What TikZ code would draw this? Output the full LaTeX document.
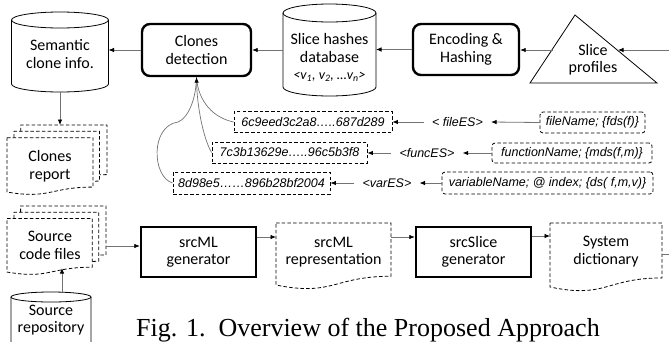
\documentclass[tikz,border=0pt]{standalone}
\usepackage{fontspec}
\setmainfont{Carlito}
\newfontfamily\arialf{Liberation Sans}
\newfontfamily\timesf{Liberation Serif}
\usetikzlibrary{arrows.meta,calc}
\newcommand\cylbody[5]{%
  \draw[cyl] (#1-#4,#2+#5) -- (#1-#4,#3-#5) arc[start angle=180,end angle=0,x radius=#4,y radius=#5] -- (#1+#4,#2+#5);
  \draw[cyl] (#1,#2+#5) ellipse[x radius=#4,y radius=#5];}
\newcommand\docshape[4]{%
  \draw[dsh] (#1,#2) -- (#1+#3,#2) -- (#1+#3,#2+0.802*#4) .. controls (#1+0.5*#3,#2+0.802*#4) and (#1+0.5*#3,#2+1.1075*#4) .. (#1,#2+0.934*#4) -- cycle;}
\newcommand\multidoc[4]{%
  \draw[dsh] (#1,#2+0.1701*#4) -- (#1+0.8609*#3,#2+0.1701*#4) -- (#1+0.8609*#3,#2+0.8344*#4) .. controls (#1+0.4305*#3,#2+0.8344*#4) and (#1+0.4305*#3,#2+#4) .. (#1,#2+0.9010*#4) -- cycle;
  \draw[dsh] (#1+0.0709*#3,#2+0.1701*#4) -- (#1+0.0709*#3,#2+0.0840*#4) -- (#1+0.9259*#3,#2+0.0840*#4) -- (#1+0.9259*#3,#2+0.7524*#4) -- (#1+0.8609*#3,#2+0.7570*#4);
  \draw[dsh] (#1+0.1376*#3,#2+0.0840*#4) -- (#1+0.1376*#3,#2) -- (#1+#3,#2) -- (#1+#3,#2+0.6663*#4) -- (#1+0.9259*#3,#2+0.6698*#4);}
\begin{document}
\begin{tikzpicture}[x=1pt,y=-1pt,
  lbl/.style={font=\fontsize{16}{17.5}\selectfont, align=center, inner sep=0pt},
  anc/.style={inner sep=0pt, outer sep=0pt, draw=none},
  thickbox/.style={draw, line width=2.4pt, align=center, font=\fontsize{16}{17.5}\selectfont, inner sep=0pt},
  arr/.style={draw=black!55, line width=0.8pt, -{Latex[length=5.5pt,width=4.5pt,color=black]}},
  conn/.style={draw=black!55, line width=0.7pt},
  cyl/.style={draw=black, line width=0.8pt},
  dsh/.style={draw=black, line width=0.8pt, dash pattern=on 3.5pt off 2.2pt},
  hash/.style={dsh, minimum height=21pt, font=\arialf\itshape\fontsize{12.5}{14}\selectfont, inner sep=0pt},
  es/.style={font=\arialf\itshape\fontsize{12.5}{14}\selectfont, inner xsep=8pt, inner ysep=2pt}
]
\useasboundingbox (0,0) rectangle (669,341);
\clip (0,0) rectangle (669,341);

% ---- top row
\cylbody{60}{12}{92}{48.5}{8}
\node[anc, minimum width=97pt, minimum height=80pt] (sem) at (60,52) {};
\node[lbl] (semt) at (60,54) {Semantic\\clone info.};

\node[thickbox, rounded corners=8pt, minimum width=109pt, minimum height=52pt] (cd) at (196.5,50) {Clones\\detection};

\cylbody{329.5}{4}{96}{46.5}{9}
\node[anc, minimum width=93pt, minimum height=92pt] (db) at (329.5,50) {};
\node[lbl] (dbt) at (329.5,48) {Slice hashes\\database};
\node[lbl, font=\itshape\fontsize{14}{16}\selectfont] (dbv) at (329.5,77) {<v\textsubscript{1}, v\textsubscript{2}, …v\textsubscript{n}>};

\node[thickbox, rounded corners=8pt, minimum width=106pt, minimum height=51pt] (enc) at (466,49.5) {Encoding \&\\Hashing};

\draw[cyl] (530,83) -- (575,15) -- (657,83) -- cycle;
\node[lbl] (sp) at (593,59.5) {Slice\\profiles};
\coordinate (triL) at (553,50);
\coordinate (triR) at (618,50);
\coordinate (offR) at (669,50);

\draw[arr] (cd.west) -- (cd.west -| sem.east);
\draw[arr] (db.west) -- (db.west -| cd.east);
\draw[arr] (enc.west) -- (enc.west -| db.east);
\draw[arr] (triL) -- (triL -| enc.east);
\draw[arr] (offR) -- (triR);

% ---- middle rows
\node[hash, minimum width=158pt] (h1) at (313,122) {6c9eed3c2a8…..687d289};
\node[hash, minimum width=155pt] (h2) at (289.5,152.5) {7c3b13629e…..96c5b3f8};
\node[hash, minimum width=157pt, minimum height=22pt] (h3) at (251.5,183) {8d98e5……896b28bf2004};

\node[es] (fes) at (457.5,122) {< fileES>};
\node[es] (ces) at (427,153) {<funcES>};
\node[es] (ves) at (387,183) {<varES>};

\node[hash, rounded corners=3pt, minimum width=105pt] (fn) at (592.5,122.5) {fileName; \{fds(f)\}};
\node[hash, rounded corners=3pt, minimum width=160pt, minimum height=20pt] (cn) at (572,153) {functionName; \{mds(f,m)\}};
\node[hash, rounded corners=3pt, minimum width=211pt, minimum height=22pt] (vn) at (547.5,183) {variableName; @ index; \{ds( f,m,v)\}};

\draw[arr] (fn.west) -- (fes.east);
\draw[arr] (fes.west) -- (fes.west -| h1.east);
\draw[arr] (cn.west) -- (cn.west -| ces.east);
\draw[arr] (ces.west) -- (ces.west -| h2.east);
\draw[arr] (vn.west) -- (vn.west -| ves.east);
\draw[arr] (ves.west) -- (ves.west -| h3.east);

\draw[conn] (h1.west) .. controls (214,118) and (198,102) .. (cd.south);
\draw[conn] (h3.west) .. controls (152,177) and (150,126) .. (178,122) .. controls (188,118) and (196,100) .. (cd.south);
\draw[arr, line width=0.7pt] (h2.west) .. controls (203,138) and (197,105) .. (cd.south);

% ---- left column
\multidoc{7}{125}{100}{74.4}
\node[anc, minimum width=100pt, minimum height=74pt] (rep) at (57,162) {};
\node[lbl] (rept) at (50,166) {Clones\\report};
\draw[arr] (sem.south) -- (sem.south |- rep.north);

\multidoc{7}{206}{99}{73.3}
\node[anc, minimum width=99pt, minimum height=73pt] (scf) at (56.5,242.5) {};
\node[lbl] (scft) at (50,245.5) {Source\\code files};

\cylbody{51}{292}{360}{40}{5}
\node[anc, minimum width=80pt, minimum height=60pt] (repo) at (51,322) {};
\node[lbl] (repot) at (51,320) {Source\\repository};
\coordinate (repoTop) at (62,292.4);
\coordinate (scfBot) at (62,268);
\draw[arr] (repoTop) -- (scfBot);

% ---- bottom row
\node[thickbox, minimum width=115pt, minimum height=50pt] (g1) at (198.5,252) {srcML\\generator};
\docshape{276}{223}{115}{66.4}
\node[anc, minimum width=115pt, minimum height=62pt] (rp) at (333.5,254) {};
\node[lbl] (rpt) at (333.5,252) {srcML\\representation};
\node[thickbox, minimum width=115pt, minimum height=50pt] (g2) at (473.5,252) {srcSlice\\generator};
\docshape{550}{223}{112}{68.5}
\node[anc, minimum width=112pt, minimum height=64pt] (sys) at (606,255) {};
\node[lbl] (syst) at (606,251.5) {System\\dictionary};
\coordinate (offR2) at (669,254);

\draw[arr] (scf.east |- 0,246) -- (g1.west |- 0,246);
\draw[arr] (g1.east |- 0,237) -- (rp.west |- 0,237);
\draw[arr] (rp.east |- 0,237) -- (g2.west |- 0,237);
\draw[arr] (g2.east |- 0,236) -- (sys.west |- 0,236);
\draw[conn] (sys.east |- offR2) -- (offR2);

% ---- caption
\node[anchor=base west, font=\timesf\fontsize{26}{29}\selectfont, inner sep=0pt] (cap) at (136,336) {Fig. 1.\ \ Overview of the Proposed Approach};
\end{tikzpicture}
\end{document}
